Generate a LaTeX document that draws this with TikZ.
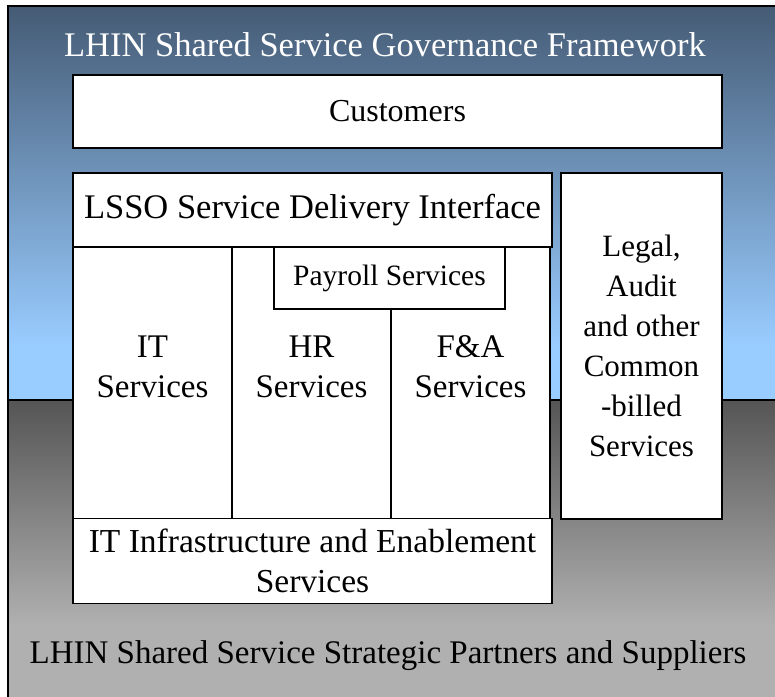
\documentclass[tikz,border=0pt]{standalone}
\usepackage{fontspec}
\setmainfont{Liberation Serif}
\begin{document}
\begin{tikzpicture}[x=1pt,y=-1pt,
  panel/.style={draw=black, line width=1.8pt, fill=white, inner sep=0pt},
  lbl/.style={align=center, inner sep=0pt},
  fs/.style={font=\fontsize{#1}{40}\selectfont},
  frameline/.style={draw=black, line width=1.6pt},
]
\definecolor{slate}{HTML}{455B75}
\definecolor{skyblue}{HTML}{99CCFF}
\definecolor{darkgrey}{HTML}{555555}
\definecolor{lightgrey}{HTML}{B0B0B0}
\useasboundingbox (0,0) rectangle (775,696);

% upper band: governance (blue), lower band: partners and suppliers (grey)
\shade[top color=slate, bottom color=skyblue] (8,6) rectangle (780,345);
\fill[skyblue] (8,344.5) rectangle (780,400);
\shade[top color=darkgrey, bottom color=lightgrey] (8,400) rectangle (780,625);
\fill[lightgrey] (8,624.5) rectangle (780,700);
\draw[frameline] (8,700) -- (8,6) -- (780,6);
\draw[frameline] (8,400) -- (780,400);

\node[lbl, fs=34.5, text=white] (gov) at (385,45) {LHIN Shared Service Governance Framework};
\node[lbl, fs=33] (partners) at (388,656) {LHIN Shared Service Strategic Partners and Suppliers};

% customers
\node[panel, minimum width=649pt, minimum height=73pt] (cust) at (397.5,111.5) {};
\node[lbl, fs=32] (custtxt) at (cust.center) {Customers};

% service columns
\node[panel, minimum width=159pt, minimum height=272pt] (itcol) at (152.5,383) {};
\node[panel, minimum width=159pt, minimum height=272pt] (hrcol) at (311.5,383) {};
\node[panel, minimum width=159pt, minimum height=272pt] (facol) at (470.5,383) {};

% delivery interface and payroll
\node[panel, minimum width=479pt, minimum height=74pt] (lsso) at (312.5,210) {};
\node[lbl, fs=34.5] (lssotxt) at (lsso.center) {LSSO Service Delivery Interface};
\node[panel, minimum width=231pt, minimum height=62pt] (pay) at (389.5,278) {};
\node[lbl, fs=29.5] (paytxt) at (pay.center) {Payroll Services};

\node[lbl, fs=33] (ittxt) at (152.5,367) {IT\\Services};
\node[lbl, fs=33] (hrtxt) at (311.5,367) {HR\\Services};
\node[lbl, fs=33] (fatxt) at (470.5,367) {F\&A\\Services};

% infrastructure
\node[panel, minimum width=479pt, minimum height=85pt] (infra) at (312.5,561) {};
\node[lbl, fs=33.5] (infratxt) at (infra.center) {IT Infrastructure and Enablement\\Services};

% common-billed services
\node[panel, minimum width=161pt, minimum height=346pt] (legal) at (641.5,346) {};
\node[lbl, fs=31] (legaltxt) at (legal.center) {Legal,\\Audit\\and other\\Common\\-billed\\Services};
\end{tikzpicture}
\end{document}
